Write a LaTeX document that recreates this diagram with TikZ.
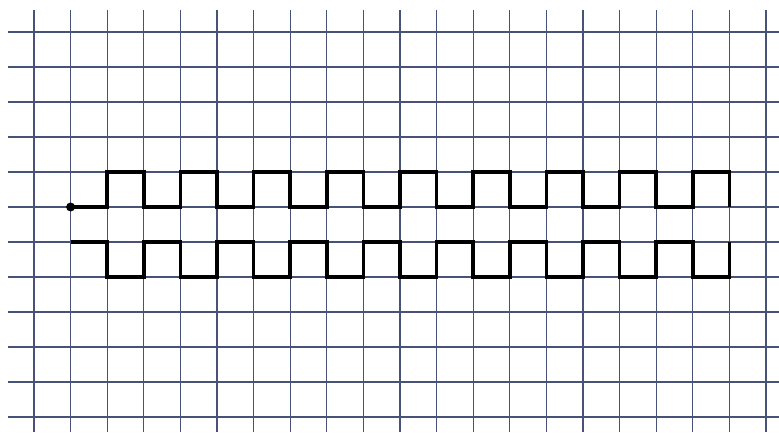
\documentclass[tikz,border=0pt]{standalone}
\usepackage{tikz}
\usepackage{xcolor}
\definecolor{gridblue}{RGB}{72,82,120}

\begin{document}
\begin{tikzpicture}[x=36.6pt,y=-35pt,
  gridline/.style={gridblue,line width=1.1pt},
  wave/.style={black,line width=3.6pt,line join=miter,line cap=butt},
  dot/.style={circle,fill=black,inner sep=0pt,minimum size=9pt}]
\useasboundingbox[fill=white] (-0.929,-0.914) rectangle (20.355,11.457);
% squared paper
\foreach \k in {0,...,20}
  \draw[gridline] (\k,-0.63) -- (\k,11.43);
\foreach \j in {0,...,11}
  \draw[gridline] (-0.71,\j) -- (20.355,\j);
% the two square waves
\node[dot] (start) at (1,5) {};
\coordinate (lowstart) at (1,6);
\draw[wave] (start.center) foreach \i in {1,...,9}{ -- ++(1,0) -- ++(0,-1) -- ++(1,0) -- ++(0,1) };
\draw[wave] (lowstart) foreach \i in {1,...,9}{ -- ++(1,0) -- ++(0,1) -- ++(1,0) -- ++(0,-1) };
\end{tikzpicture}
\end{document}
